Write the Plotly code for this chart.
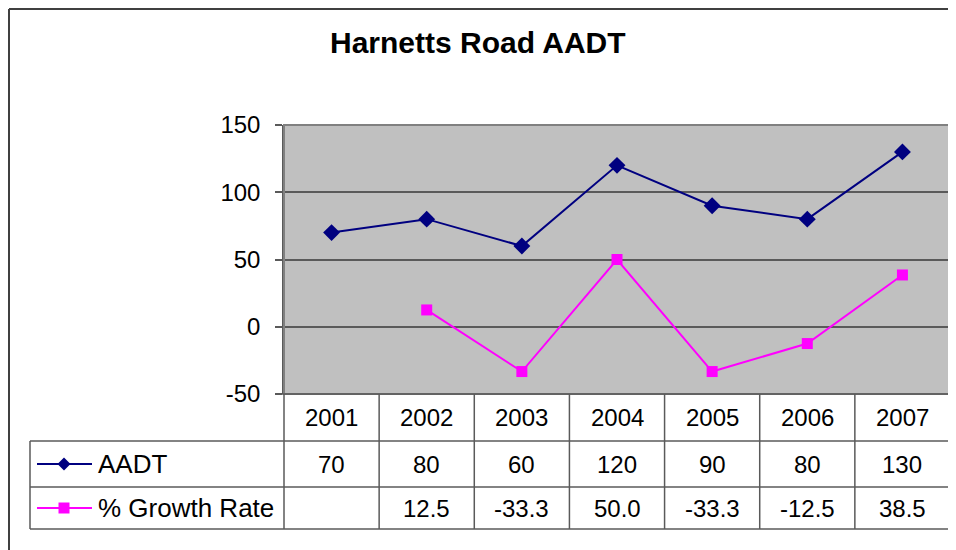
import plotly.graph_objects as go

years = ["2001", "2002", "2003", "2004", "2005", "2006", "2007"]
aadt = [70, 80, 60, 120, 90, 80, 130]
growth = [None, 12.5, -33.3, 50.0, -33.3, -12.5, 38.5]
growth_labels = ["", "12.5", "-33.3", "50.0", "-33.3", "-12.5", "38.5"]
series_names = ["AADT", "% Growth Rate"]
y_ticks = [-50, 0, 50, 100, 150]
y_tick_labels = ["-50", "0", "50", "100", "150"]

W, H = 956, 550
OFF = 8  # page body margin
FONT = "Liberation Sans, Arial, sans-serif"
NAVY = "#000080"
MAGENTA = "#FF00FF"
LINE = "#5a5a5a"
NUM = 24

def px(x):
    return (x - OFF) / W

def py(y):
    return 1 - (y - OFF) / H

# plot area (page pixels)
PL, PR, PT, PB = 284, 950, 125, 394
# table rows
R1, R2, R3 = 441, 487, 529
TL = 30

fig = go.Figure()
fig.add_trace(go.Scatter(
    x=list(range(len(years))), y=aadt, mode="lines+markers", name=series_names[0],
    line=dict(color=NAVY, width=2),
    marker=dict(symbol="diamond", size=13, color=NAVY),
    cliponaxis=False,
))
fig.add_trace(go.Scatter(
    x=list(range(len(years))), y=growth, mode="lines+markers", name=series_names[1],
    line=dict(color=MAGENTA, width=2),
    marker=dict(symbol="square", size=11, color=MAGENTA),
    connectgaps=False, cliponaxis=False,
))

shapes = []
# outer frame (left and top edges)
shapes.append(dict(type="line", xref="paper", yref="paper",
                   x0=px(9), x1=px(9), y0=py(600), y1=py(9),
                   line=dict(color="#404040", width=2)))
shapes.append(dict(type="line", xref="paper", yref="paper",
                   x0=px(9), x1=px(1000), y0=py(9), y1=py(9),
                   line=dict(color="#404040", width=2)))
# plot area border
shapes.append(dict(type="rect", xref="paper", yref="paper",
                   x0=px(PL), x1=px(PR), y0=py(PB), y1=py(PT),
                   line=dict(color="#808080", width=2), layer="above"))
# table horizontal lines
shapes.append(dict(type="line", xref="paper", yref="paper",
                   x0=px(PL - 7), x1=px(PR), y0=py(PB), y1=py(PB),
                   line=dict(color=LINE, width=1.5), layer="above"))
for yy in [R1, R2, R3]:
    shapes.append(dict(type="line", xref="paper", yref="paper",
                       x0=px(TL), x1=px(PR), y0=py(yy), y1=py(yy),
                       line=dict(color=LINE, width=1.5)))
# table vertical lines
colw = (PR - PL) / len(years)
for i in range(len(years) + 1):
    xx = PL + i * colw
    shapes.append(dict(type="line", xref="paper", yref="paper",
                       x0=px(xx), x1=px(xx), y0=py(PB), y1=py(R3),
                       line=dict(color=LINE, width=1.5)))
shapes.append(dict(type="line", xref="paper", yref="paper",
                   x0=px(TL), x1=px(TL), y0=py(R1), y1=py(R3),
                   line=dict(color=LINE, width=1.5)))

# legend glyphs inside the table
for color, sym, yc in [(NAVY, "diamond", (R1 + R2) / 2), (MAGENTA, "square", (R2 + R3) / 2)]:
    shapes.append(dict(type="line", xref="paper", yref="paper",
                       x0=px(37), x1=px(92), y0=py(yc), y1=py(yc),
                       line=dict(color=color, width=2)))
    if sym == "diamond":
        d = 6.5
        path = (f"M {px(64 - d)},{py(yc)} L {px(64)},{py(yc - d)} "
                f"L {px(64 + d)},{py(yc)} L {px(64)},{py(yc + d)} Z")
        shapes.append(dict(type="path", xref="paper", yref="paper", path=path,
                           fillcolor=color, line=dict(color=color, width=0)))
    else:
        s = 5.5
        shapes.append(dict(type="rect", xref="paper", yref="paper",
                           x0=px(64 - s), x1=px(64 + s), y0=py(yc + s), y1=py(yc - s),
                           fillcolor=color, line=dict(color=color, width=0)))

tf = dict(size=NUM, family=FONT, color="black")
annotations = []
for i, yr in enumerate(years):
    for txt, yc in [(yr, (PB + R1) / 2), (str(aadt[i]), (R1 + R2) / 2), (growth_labels[i], (R2 + R3) / 2)]:
        annotations.append(dict(x=i, xref="x", y=py(yc), yref="paper",
                                xanchor="center", yanchor="middle",
                                text=txt, showarrow=False, font=tf))
lf = dict(size=26, family=FONT, color="black")
annotations.append(dict(x=px(96), xref="paper", y=py((R1 + R2) / 2), yref="paper",
                        xanchor="left", yanchor="middle",
                        text=series_names[0], showarrow=False, font=lf))
annotations.append(dict(x=px(96), xref="paper", y=py((R2 + R3) / 2), yref="paper",
                        xanchor="left", yanchor="middle",
                        text=series_names[1], showarrow=False, font=lf))
annotations.append(dict(x=px(478), xref="paper", y=py(43), yref="paper",
                        xanchor="center", yanchor="middle",
                        text="<b>Harnetts Road AADT</b>", showarrow=False,
                        font=dict(size=30, family=FONT, color="black")))

fig.update_layout(
    template="none",
    width=W, height=H,
    autosize=False,
    margin=dict(l=0, r=0, t=0, b=0, pad=0),
    paper_bgcolor="white",
    plot_bgcolor="#C0C0C0",
    showlegend=False,
    font=dict(family=FONT, color="black"),
    xaxis=dict(domain=[px(PL), px(PR)], range=[-0.5, len(years) - 0.5],
               showticklabels=False, showgrid=False, zeroline=False, ticks="",
               showline=False, automargin=False),
    yaxis=dict(domain=[py(PB), py(PT)], range=[y_ticks[0], y_ticks[-1]],
               tickvals=y_ticks, ticktext=y_tick_labels,
               ticks="outside", ticklen=7, tickcolor=LINE, tickwidth=1.5,
               ticklabelstandoff=10,
               showline=True, linecolor=LINE, linewidth=1.5, automargin=False,
               showgrid=True, gridcolor=LINE, gridwidth=1.5, zeroline=False,
               tickfont=dict(size=NUM, family=FONT, color="black")),
    shapes=shapes,
    annotations=annotations,
)

fig.write_html("out.html")
